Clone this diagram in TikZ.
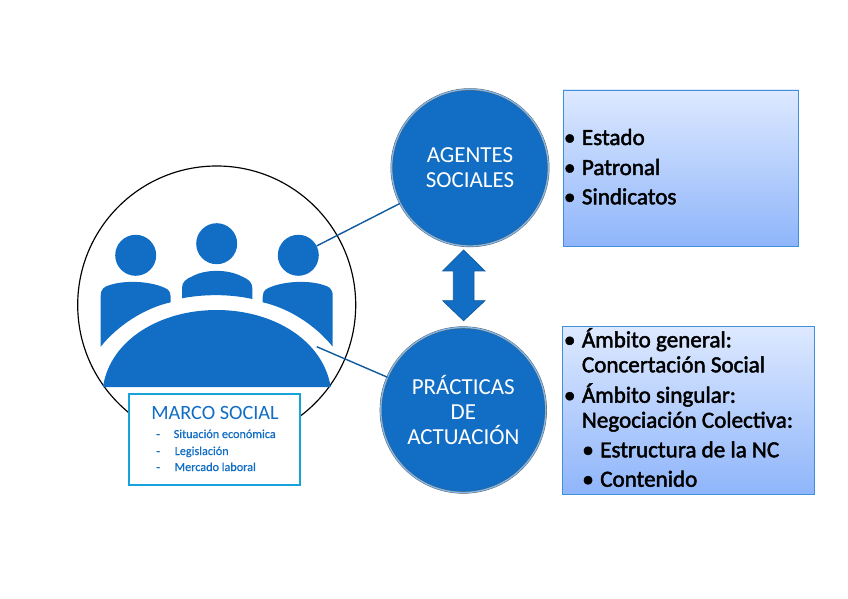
\documentclass[tikz,border=0pt]{standalone}
\usepackage{fontspec}
\setmainfont{Carlito}
\newfontfamily\boxfont[FakeBold=2]{Carlito}
\newfontfamily\marcofont[FakeBold=0.6]{Carlito}
\usepackage{xcolor}
\usetikzlibrary{positioning,calc}
\definecolor{mainblue}{HTML}{116EC4}
\definecolor{linkblue}{HTML}{0F5A9C}
\definecolor{rimblue}{HTML}{7DB8EE}
\definecolor{boxtop}{HTML}{DDE9FF}
\definecolor{boxbottom}{HTML}{8FB5FA}
\definecolor{boxline}{HTML}{3F8FDB}
\definecolor{marcoline}{HTML}{16A3DC}
\tikzset{
	figure/.style={fill=mainblue,draw=none},
	head/.style={circle,fill=mainblue,minimum size=1.23cm,inner sep=0pt},
	bubble/.style={circle,fill=mainblue,draw=black!65,double=rimblue,line width=0.35pt,double distance=1.2pt,text=white,align=center,inner sep=0pt,font=\fontsize{19.6}{21.4}\selectfont},
	infobox/.style={draw=boxline,line width=0.8pt,top color=boxtop,bottom color=boxbottom},
	item/.style={anchor=base west,inner sep=0pt,font=\boxfont\fontsize{19.7}{24}\selectfont},
	marco/.style={anchor=base west,inner sep=0pt,text=mainblue,font=\marcofont\fontsize{10.4}{12}\selectfont},
	link/.style={linkblue,line width=1.2pt}
}
\newcommand{\blt}{\llap{•\hspace{5.5pt}}}
\begin{document}
\begin{tikzpicture}[x=0.03cm,y=-0.03cm]
	\useasboundingbox (0,0) rectangle (848,599);
	% big round frame
	\node[circle,draw=black,line width=1pt,minimum size=8.34cm,inner sep=0pt] (frame) at (216.7,305) {};
	% people at the table
	\node[head] (headL) at (135.7,255.3) {};
	\node[head] (headM) at (216.7,243.7) {};
	\node[head] (headR) at (298.3,255.3) {};
	\fill[figure] (100.7,346.7) -- (100.7,296) .. controls (100.7,288) and (105,286.5) .. (110,285) .. controls (125,280) and (150,281) .. (165,288) .. controls (170,290) and (171,293) .. (170.7,302.3) .. controls (145,308) and (118,325) .. cycle;
	\fill[figure] (332.7,346.7) -- (332.7,296) .. controls (332.7,288) and (328.4,286.5) .. (323.4,285) .. controls (308.4,280) and (283.4,281) .. (268.4,288) .. controls (263.4,290) and (262.4,293) .. (262.7,302.3) .. controls (288.4,308) and (315.4,325) .. cycle;
	\fill[figure] (182,298.3) -- (182,288) .. controls (182,282) and (186,279) .. (192,276.5) .. controls (205,269) and (228,269) .. (242,276.5) .. controls (248,279) and (252.3,282) .. (252.3,288) -- (252.3,299) .. controls (230,294) and (204,294) .. cycle;
	\fill[figure] (103,387) .. controls (110,340) and (160,310) .. (216.7,310) .. controls (273,310) and (323,340) .. (330.7,387) -- cycle;
	\coordinate (tableedge) at (316.7,346.7);
	% the two bubbles
	\node[bubble,minimum size=4.7cm] (agentes) at (470,167.7) {AGENTES\\SOCIALES};
	\node[bubble,minimum size=4.95cm] (practicas) at (463.3,410) {PRÁCTICAS\\DE\\ACTUACIÓN};
	\draw[link] (headR) -- (agentes);
	\draw[link] (tableedge) -- (practicas);
	\draw[fill=mainblue,draw=linkblue,line width=0.6pt] (463.6,250) -- (485,271) -- (474,271) -- (474,300.7) -- (485,300.7) -- (463.6,320.7) -- (442.7,300.7) -- (453.3,300.7) -- (453.3,271) -- (442.7,271) -- cycle;
	% marco social
	\node[draw=marcoline,fill=white,line width=1.2pt,minimum width=5.13cm,minimum height=2.73cm,inner sep=0pt] (marcobox) at (214.5,439.5) {};
	\node[anchor=base,inner sep=0pt,text=mainblue,font=\fontsize{17.3}{20}\selectfont] (marcotitle) at (215,419.5) {MARCO SOCIAL};
	\node[marco] (dashA) at (156,438) {-};
	\node[marco] (dashB) at (156,455) {-};
	\node[marco] (dashC) at (156,471) {-};
	\node[marco] (marcoA) at (173.5,438) {Situación económica};
	\node[marco] (marcoB) at (174.5,455) {Legislación};
	\node[marco] (marcoC) at (174.5,471) {Mercado laboral};
	% right hand lists
	\node[infobox,minimum width=7.05cm,minimum height=4.68cm,inner sep=0pt] (agentesbox) at (680.5,168) {};
	\node[item] (estado) at (581.7,145) {\blt Estado};
	\node[item] (patronal) at (581.7,175) {\blt Patronal};
	\node[item] (sindicatos) at (581.7,204.3) {\blt Sindicatos};
	\node[infobox,minimum width=7.54cm,minimum height=5.02cm,inner sep=0pt] (practicasbox) at (688.6,410.3) {};
	\node[item] (general) at (581.7,347.3) {\blt Ámbito general:};
	\node[item] (concertacion) at (581.7,372.3) {Concertación Social};
	\node[item] (singular) at (581.7,402.7) {\blt Ámbito singular:};
	\node[item] (negociacion) at (581.7,427.7) {Negociación Colectiva:};
	\node[item] (estructura) at (600,457.3) {\blt Estructura de la NC};
	\node[item] (contenido) at (600,486.7) {\blt Contenido};
\end{tikzpicture}
\end{document}
